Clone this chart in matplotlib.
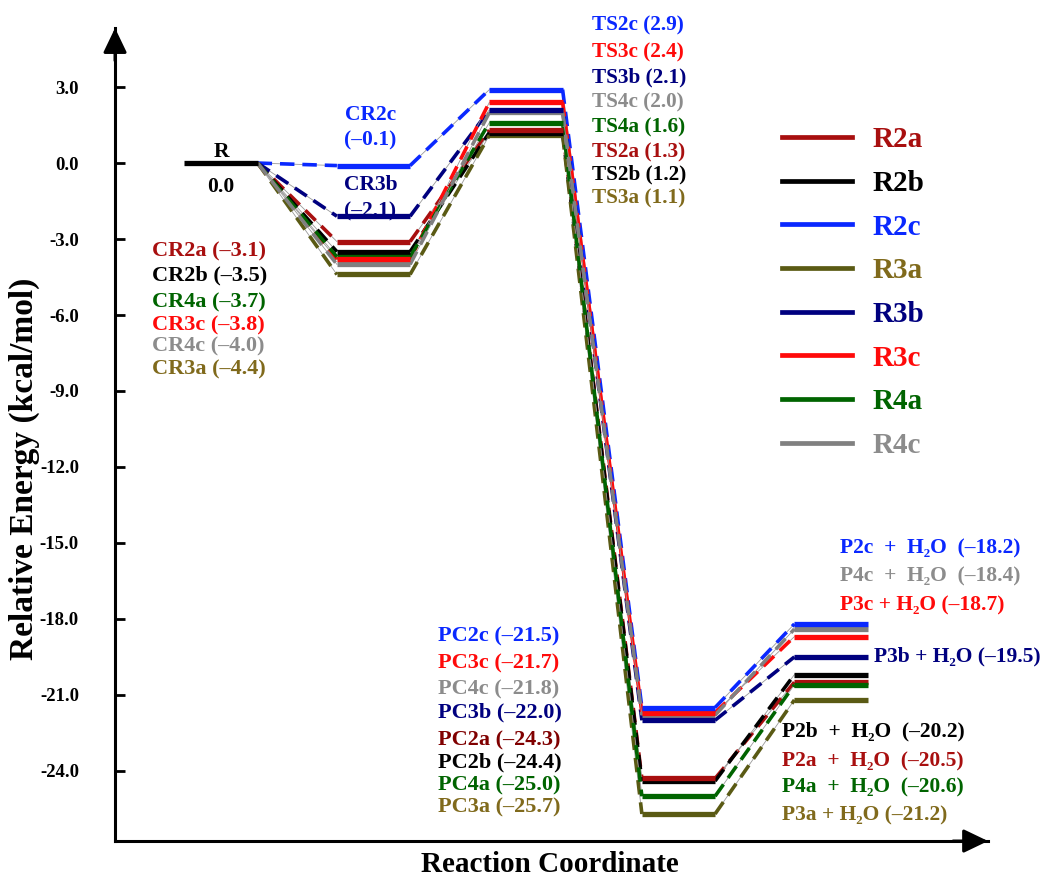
import matplotlib
matplotlib.use("Agg")
import matplotlib.pyplot as plt
from matplotlib.lines import Line2D

plt.rcParams['font.family'] = ['Liberation Serif', 'DejaVu Serif']
plt.rcParams['font.weight'] = 'bold'

# stationary points along the reaction coordinate
stages = ["R", "CR", "TS", "PC", "P"]
systems = ["R2a", "R2b", "R2c", "R3a", "R3b", "R3c", "R4a", "R4c"]
line_colors = ["#a80f0f", "#000000", "#0a28ff", "#5a5a14", "#00007f", "#ff0a0a", "#006400", "#808080"]
text_colors = ["#a80f0f", "#000000", "#0a28ff", "#806a1c", "#00007f", "#ff0a0a", "#006400", "#8c8c8c"]

E_R = [0.0, 0.0, 0.0, 0.0, 0.0, 0.0, 0.0, 0.0]
E_CR = [-3.1, -3.5, -0.1, -4.4, -2.1, -3.8, -3.7, -4.0]
E_TS = [1.3, 1.2, 2.9, 1.1, 2.1, 2.4, 1.6, 2.0]
E_PC = [-24.3, -24.4, -21.5, -25.7, -22.0, -21.7, -25.0, -21.8]
E_P = [-20.5, -20.2, -18.2, -21.2, -19.5, -18.7, -20.6, -18.4]

yticks = [3, 0, -3, -6, -9, -12, -15, -18, -21, -24]

fig = plt.figure(figsize=(10.43, 8.77), dpi=100)
ax = fig.add_axes([0.1103, 0.041, 0.837, 0.927])

hw = 0.24
profiles = list(zip(E_R, E_CR, E_TS, E_PC, E_P))
# dashed connectors under the levels
for k in range(len(systems)):
    ys = profiles[k]
    c = line_colors[k]
    for i in range(len(stages) - 1):
        xs = [i + hw, i + 1 - hw]
        yy = [ys[i], ys[i + 1]]
        ax.plot(xs, yy, color="#999999", lw=0.6, zorder=2)
        ax.plot(xs, yy, color=c, lw=2.6, ls=(0, (4, 2.2)), zorder=2)
order = sorted(range(len(systems)), key=lambda k: E_TS[k])
for k in order:
    ys = profiles[k]
    for i in range(1, len(stages)):
        ax.plot([i - hw, i + hw], [ys[i], ys[i]], color=line_colors[k], lw=3.8,
                solid_capstyle='butt', zorder=3)
ax.plot([-hw, hw], [0, 0], color="black", lw=3.8, solid_capstyle='butt', zorder=4)

ax.set_xlim(-0.695, 5.03)
ax.set_ylim(-26.77, 5.33)
for s in ["top", "right"]:
    ax.spines[s].set_visible(False)
for s in ["left", "bottom"]:
    ax.spines[s].set_linewidth(2.2)
arrow = dict(arrowstyle="-|>,head_width=0.72,head_length=1.5", color="black", lw=2.2,
             shrinkA=0, shrinkB=0)
ax.annotate("", xy=(0, 1.0), xytext=(0, 0.96), xycoords="axes fraction", arrowprops=arrow)
ax.annotate("", xy=(1.0, 0), xytext=(0.96, 0), xycoords="axes fraction", arrowprops=arrow)
ax.set_xticks([])
ax.set_yticks(yticks)
ax.set_yticklabels(["%.1f" % v for v in yticks], fontsize=13.5, fontweight='bold')
ax.tick_params(axis='y', direction='in', length=7, width=2, pad=26)

fig.text(0.023, 0.465, "Relative Energy (kcal/mol)", rotation=90, ha='center', va='center',
         fontsize=24, fontweight='bold')
fig.text(0.527, 0.006, "Reaction Coordinate", ha='center', va='baseline', fontsize=21, fontweight='bold')

def lab(x, y, s, color, ha='left', size=15.5):
    ax.text(x, y, s, color=color, ha=ha, va='center', fontsize=size, fontweight='bold', clip_on=False)

lab(0.0, 0.43, "R", "black", ha='center')
lab(0.0, -0.95, "0.0", "black", ha='center')
lab(0.98, 1.90, "CR2c", text_colors[2], ha='center')
lab(0.98, 0.91, "(\u20130.1)", text_colors[2], ha='center')
lab(0.98, -0.87, "CR3b", text_colors[4], ha='center')
lab(0.98, -1.93, "(\u20132.1)", text_colors[4], ha='center')

# CR column
cr_rows = [(0, "CR2a", -3.51), (1, "CR2b", -4.42), (6, "CR4a", -5.49), (5, "CR3c", -6.40),
           (7, "CR4c", -7.26), (3, "CR3a", -8.17)]
for k, name, y in cr_rows:
    lab(-0.45, y, "%s (\u2013%.1f)" % (name, -E_CR[k]), text_colors[k], size=16)

# TS column
ts_rows = [(2, "TS2c", 5.45), (5, "TS3c", 4.38), (4, "TS3b", 3.36), (7, "TS4c", 2.41),
           (6, "TS4a", 1.42), (0, "TS2a", 0.43), (1, "TS2b", -0.47), (3, "TS3a", -1.38)]
for k, name, y in ts_rows:
    lab(2.43, y, "%s (%.1f)" % (name, E_TS[k]), text_colors[k], size=15.3)

# PC column
pc_colors = {0: "#800000"}
pc_rows = [(2, "PC2c", -18.71), (5, "PC3c", -19.74), (7, "PC4c", -20.77), (4, "PC3b", -21.71),
           (0, "PC2a", -22.78), (1, "PC2b", -23.65), (6, "PC4a", -24.56), (3, "PC3a", -25.43)]
for k, name, y in pc_rows:
    lab(1.42, y, "%s (\u2013%.1f)" % (name, -E_PC[k]), pc_colors.get(k, text_colors[k]), size=16)

# P labels
p_upper = [(2, "P2c  +  H\u2082O  (\u2013%.1f)", -15.20), (7, "P4c  +  H\u2082O  (\u2013%.1f)", -16.34),
           (5, "P3c + H\u2082O (\u2013%.1f)", -17.45)]
for k, fmt, y in p_upper:
    lab(4.06, y, fmt % (-E_P[k]), text_colors[k])
lab(4.28, E_P[4], "P3b + H\u2082O (\u2013%.1f)" % (-E_P[4]), text_colors[4])
p_lower = [(1, "P2b  +  H\u2082O  (\u2013%.1f)", -22.46), (0, "P2a  +  H\u2082O  (\u2013%.1f)", -23.61),
           (6, "P4a  +  H\u2082O  (\u2013%.1f)", -24.67), (3, "P3a + H\u2082O (\u2013%.1f)", -25.78)]
for k, fmt, y in p_lower:
    lab(3.68, y, fmt % (-E_P[k]), text_colors[k])

handles = [Line2D([], [], color=c, lw=3.4) for c in line_colors]
leg = ax.legend(handles, systems, loc='upper left', bbox_to_anchor=(0.764, 0.879), frameon=False,
                borderaxespad=0, borderpad=0, handlelength=2.4, handletextpad=0.69,
                labelspacing=0.57, prop={'size': 21, 'weight': 'bold'}, labelcolor=text_colors)

fig.savefig("out.png", dpi=100)
